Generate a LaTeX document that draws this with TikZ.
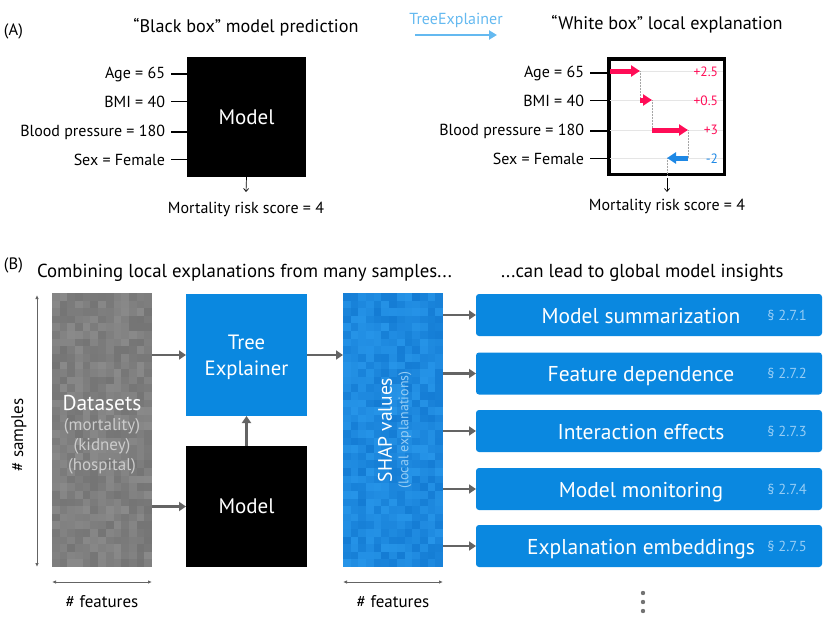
\documentclass[tikz,border=0pt]{standalone}
\usepackage{fontspec}
\setmainfont{PT Sans}
\usetikzlibrary{arrows.meta}
\definecolor{shapred}{RGB}{255,13,87}
\definecolor{shapblue}{RGB}{30,136,229}
\definecolor{boxblue}{RGB}{10,136,224}
\definecolor{lightblue}{RGB}{100,185,240}
\definecolor{arrowgrey}{RGB}{100,100,100}
\definecolor{sectext}{RGB}{150,205,245}
\definecolor{glight}{RGB}{138,138,138}
\definecolor{gdark}{RGB}{116,116,116}
\definecolor{blight}{RGB}{38,148,232}
\definecolor{bdark}{RGB}{20,124,212}
\begin{document}
\begin{tikzpicture}[x=1pt,y=-1pt,
  every node/.style={inner sep=0pt, outer sep=0pt},
  lab/.style={font=\fontsize{16}{18}\selectfont, anchor=base east},
  title/.style={font=\fontsize{18.2}{21}\selectfont, anchor=base},
  panel/.style={font=\fontsize{16.5}{19}\selectfont, anchor=base west},
  feat/.style={font=\fontsize{17}{19}\selectfont, anchor=base},
  tick/.style={line width=1.2pt, black},
  shaparr/.style={line width=5pt, -{Triangle[length=9pt,width=11pt]}},
  grid row/.style={black!10, line width=0.8pt},
  guide/.style={black!35, densely dotted, line width=0.5pt},
  smallarr/.style={line width=0.7pt, -{Straight Barb[length=3pt,width=5pt]}},
  flow/.style={arrowgrey, line width=2.5pt, -{Triangle[length=7pt,width=9pt]}},
  dim/.style={arrowgrey, line width=0.9pt, {Latex[length=4pt,width=3.5pt]}-{Latex[length=4pt,width=3.5pt]}},
  insight/.style={fill=boxblue, rounded corners=3pt, minimum width=346pt, minimum height=42pt},
  insighttext/.style={white, font=\fontsize{21.5}{25}\selectfont, anchor=base},
  sec/.style={sectext, font=\fontsize{14.5}{16}\selectfont, anchor=base},
  val/.style={font=\fontsize{13.5}{15}\selectfont, anchor=east},
  mort/.style={font=\fontsize{16}{18}\selectfont, anchor=base}
]
\useasboundingbox (0,0) rectangle (831,629);

% ---------------- Panel A ----------------
\node[panel] (pA) at (4,35) {(A)};
\node[title] (tA1) at (246,32) {“Black box” model prediction};
\node[title] (tA2) at (667,30) {“White box” local explanation};

% black box model
\node[fill=black, minimum width=119pt, minimum height=120pt, text=white,
      font=\fontsize{21}{24}\selectfont] (bb) at (246.5,117) {Model};
\node[lab] (l1) at (165,78) {Age = 65};
\node[lab] (l2) at (165,107) {BMI = 40};
\node[lab] (l3) at (165,136) {Blood pressure = 180};
\node[lab] (l4) at (165,165) {Sex = Female};
\foreach \n in {l1,l2,l3,l4}{\draw[tick] ([xshift=6pt]\n.east) -- (\n -| bb.west);}
\node[mort] (mA) at (246,213) {Mortality risk score = 4};
\coordinate (bbout) at (246,192);
\draw[smallarr] (bb.south) -- (bbout);

% TreeExplainer arrow
\node[lightblue, font=\fontsize{16}{18}\selectfont, anchor=base] (te) at (456,24) {TreeExplainer};
\coordinate (teA) at (415,35);
\coordinate (teB) at (497,35);
\draw[lightblue, line width=2.5pt, -{Triangle[length=8pt,width=9pt]}] (teA) -- (teB);

% white box
\node[lab] (r1) at (584,77) {Age = 65};
\node[lab] (r2) at (584,106) {BMI = 40};
\node[lab] (r3) at (584,135) {Blood pressure = 180};
\node[lab] (r4) at (584,164) {Sex = Female};
\node[draw=black, line width=3.5pt, minimum width=115.5pt, minimum height=115.5pt] (wb) at (666.5,116.5) {};
\foreach \n in {r1,r2,r3,r4}{\draw[tick] ([xshift=6pt]\n.east) -- (\n -| wb.west);}
\foreach \y in {71,100,130,158}{\draw[grid row] (610,\y) -- (723,\y);}
\coordinate (g0) at (610,71);
\coordinate (g1) at (640,71);
\coordinate (g1b) at (640,100);
\coordinate (g2) at (652,100);
\coordinate (g2b) at (652,130);
\coordinate (g3) at (688,130);
\coordinate (g3b) at (688,158);
\coordinate (g4) at (667,158);
\coordinate (g4b) at (667,175);
\draw[guide] (g1) -- (g1b);
\draw[guide] (g2) -- (g2b);
\draw[guide] (g3) -- (g3b);
\draw[guide] (g4) -- (g4b);
\draw[shaparr, shapred] (g0) -- (g1);
\draw[shaparr, shapred] (g1b) -- (g2);
\draw[shaparr, shapred] (g2b) -- (g3);
\draw[shaparr, shapblue] (g3b) -- (g4);
\node[val, shapred] (v1) at (718,72) {+2.5};
\node[val, shapred] (v2) at (718,101) {+0.5};
\node[val, shapred] (v3) at (718,130) {+3};
\node[val, shapblue] (v4) at (718,159) {-2};
\coordinate (wbin) at (667,178);
\coordinate (wbout) at (667,192);
\draw[smallarr] (wbin) -- (wbout);
\node[mort] (mB) at (667,210) {Mortality risk score = 4};

% ---------------- Panel B ----------------
\node[panel] (pB) at (4,269) {(B)};
\node[anchor=base west, font=\fontsize{18.8}{21}\selectfont] (tB1) at (37,277) {Combining local explanations from many samples...};
\node[anchor=base west, font=\fontsize{18.8}{21}\selectfont] (tB2) at (501,277) {...can lead to global model insights};

% textures
\pgfmathsetseed{7}
\foreach \i in {0,...,12}{
  \foreach \j in {0,...,35}{
    \pgfmathrandominteger{\p}{0}{100}
    \fill[gdark!\p!glight] ({52+\i*100/13},{293+\j*274/36}) rectangle ++({100/13+0.4},{274/36+0.4});
  }
}
\foreach \i in {0,...,12}{
  \foreach \j in {0,...,35}{
    \pgfmathrandominteger{\p}{0}{100}
    \fill[bdark!\p!blight] ({343+\i*100/13},{293+\j*274/36}) rectangle ++({100/13+0.4},{274/36+0.4});
  }
}
\node[minimum width=100pt, minimum height=274pt] (data) at (102,430) {};
\node[minimum width=100pt, minimum height=274pt] (shap) at (393,430) {};

\node[white, font=\fontsize{21.5}{24}\selectfont, anchor=base] (dt) at (102,410) {Datasets};
\node[black!20, font=\fontsize{17}{19}\selectfont, anchor=base] (d1) at (102,430) {(mortality)};
\node[black!20, font=\fontsize{17}{19}\selectfont, anchor=base] (d2) at (102,450) {(kidney)};
\node[black!20, font=\fontsize{17}{19}\selectfont, anchor=base] (d3) at (102,470) {(hospital)};

\node[white, rotate=90, font=\fontsize{19.5}{22}\selectfont] (st) at (385,430) {SHAP values};
\node[sectext, rotate=90, font=\fontsize{14}{16}\selectfont] (sl) at (405,430) {(local explanations)};

\node[fill=boxblue, minimum width=121pt, minimum height=122pt] (tree) at (246.5,355) {};
\node[white, font=\fontsize{20.7}{24}\selectfont, anchor=base] (tt1) at (246.5,349) {Tree};
\node[white, font=\fontsize{20.7}{24}\selectfont, anchor=base] (tt2) at (246.5,375) {Explainer};
\node[fill=black, minimum width=121pt, minimum height=121pt] (model) at (246.5,506.5) {};
\node[white, font=\fontsize{21}{24}\selectfont, anchor=base] (mt) at (246.5,513) {Model};

\draw[flow] (data.east |- tree) -- (tree.west);
\draw[flow] (data.east |- model) -- (model.west);
\draw[flow] (model.north) -- (tree.south);
\draw[flow] (tree.east) -- (shap.west |- tree);

% dimension arrows
\coordinate (sa) at (37,295);
\coordinate (sb) at (37,567);
\draw[dim] (sa) -- (sb);
\node[rotate=90, font=\fontsize{17}{19}\selectfont] (ns) at (19,435) {\# samples};
\coordinate (fa) at (52,582);
\coordinate (fb) at (152,582);
\draw[dim] (fa) -- (fb);
\node[feat] (nf1) at (102,607) {\# features};
\coordinate (fc) at (343,582);
\coordinate (fd) at (443,582);
\draw[dim] (fc) -- (fd);
\node[feat] (nf2) at (393,607) {\# features};

% insight boxes
\node[insight] (b1) at (649,315) {};
\node[insight] (b2) at (649,373.5) {};
\node[insight] (b3) at (649,431) {};
\node[insight] (b4) at (649,489) {};
\node[insight] (b5) at (649,546) {};
\node[insighttext] (t1) at (641,323) {Model summarization};
\node[insighttext] (t2) at (641,381.5) {Feature dependence};
\node[insighttext] (t3) at (641,439) {Interaction effects};
\node[insighttext] (t4) at (641,497) {Model monitoring};
\node[insighttext] (t5) at (641,554) {Explanation embeddings};
\node[sec] (s1) at (787,320) {§ 2.7.1};
\node[sec] (s2) at (787,378.5) {§ 2.7.2};
\node[sec] (s3) at (787,436) {§ 2.7.3};
\node[sec] (s4) at (787,494) {§ 2.7.4};
\node[sec] (s5) at (787,551) {§ 2.7.5};
\foreach \b in {b1,b2,b3,b4,b5}{\draw[flow] (shap.east |- \b) -- (\b.west);}

% ellipsis dots
\foreach \y [count=\k] in {593,602,611}{\fill[black!55] (643,\y) circle (2.2pt) coordinate (dot\k);}
\end{tikzpicture}
\end{document}
